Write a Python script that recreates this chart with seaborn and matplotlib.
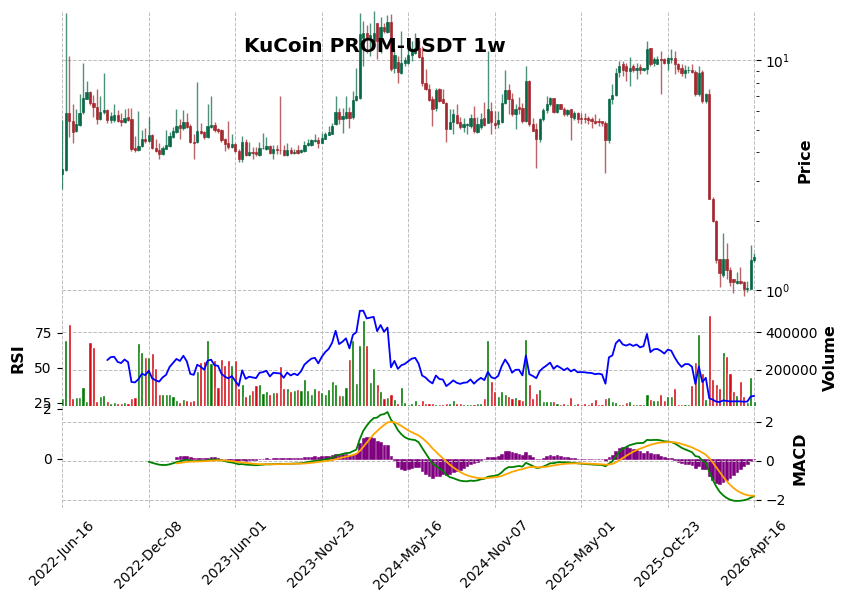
import numpy as np
import pandas as pd
import matplotlib
matplotlib.use("Agg")
import matplotlib.pyplot as plt
import matplotlib.ticker as mticker
import seaborn as sns

title = "KuCoin PROM-USDT 1w"
tick_labels = ["2022-Jun-16", "2022-Dec-08", "2023-Jun-01", "2023-Nov-23", "2024-May-16",
               "2024-Nov-07", "2025-May-01", "2025-Oct-23", "2026-Apr-16"]

# weekly candles (USDT)
opens = [3.20, 3.34, 5.92, 5.47, 4.95, 5.23, 5.96, 6.82, 7.30, 6.55,
         6.29, 5.54, 5.96, 6.06, 5.50, 5.50, 5.77, 5.50, 5.40, 5.67,
         5.54, 4.14, 4.06, 4.24, 4.56, 4.46, 4.72, 4.17, 4.06, 3.93,
         4.13, 4.24, 4.66, 4.90, 5.23, 5.06, 5.38, 5.16, 4.42, 4.42,
         4.93, 4.88, 4.64, 5.13, 5.25, 5.01, 4.96, 4.53, 4.36, 4.21,
         4.31, 4.03, 3.71, 4.43, 3.88, 3.99, 3.99, 3.88, 4.14, 4.10,
         4.23, 3.95, 4.10, 4.08, 4.09, 3.88, 4.06, 3.94, 4.07, 3.99,
         4.03, 4.27, 4.28, 4.45, 4.49, 4.39, 4.56, 4.75, 4.80, 5.27,
         5.96, 5.57, 5.64, 5.96, 5.67, 6.70, 6.84, 12.55, 13.10, 12.55,
         12.10, 14.58, 12.30, 14.00, 13.30, 14.70, 9.30, 9.85, 8.84, 9.70,
         9.77, 10.60, 10.80, 11.35, 10.37, 8.00, 7.53, 6.77, 6.22, 7.48,
         6.77, 6.55, 5.04, 5.42, 5.79, 5.40, 5.13, 5.23, 5.18, 5.64,
         4.90, 5.13, 5.64, 5.36, 6.02, 5.36, 5.27, 5.40, 6.55, 7.40,
         6.82, 5.82, 6.29, 6.22, 5.47, 8.13, 5.27, 5.01, 4.53, 5.57,
         6.06, 6.44, 6.84, 5.98, 6.44, 6.16, 5.82, 6.16, 5.64, 5.92,
         5.64, 5.64, 5.60, 5.54, 5.47, 5.47, 5.43, 5.34, 4.51, 6.82,
         7.05, 8.90, 9.60, 9.50, 9.00, 9.45, 9.10, 9.40, 9.10, 9.14,
         11.35, 9.77, 9.67, 10.10, 10.10, 9.77, 10.16, 10.27, 9.67, 9.30,
         8.84, 9.05, 9.10, 8.93, 7.16, 8.90, 6.66, 7.16, 2.50, 2.00,
         1.37, 1.17, 1.37, 1.22, 1.12, 1.08, 1.10, 1.09, 1.01, 1.01,
         1.35]
highs = [5.50, 16.0, 10.5, 6.48, 6.12, 7.11, 9.77, 8.13, 7.35, 7.08,
         7.53, 7.00, 8.84, 6.16, 5.95, 6.46, 6.08, 5.88, 6.16, 6.22,
         6.22, 4.69, 6.04, 4.96, 5.09, 5.69, 4.77, 4.53, 4.39, 4.24,
         4.96, 4.90, 5.15, 6.17, 5.57, 6.06, 5.92, 5.27, 4.77, 8.07,
         5.36, 4.95, 6.46, 7.00, 5.40, 5.08, 5.01, 4.59, 5.47, 4.80,
         4.39, 4.10, 4.67, 4.53, 4.42, 4.20, 4.20, 4.42, 4.85, 4.66,
         4.27, 4.28, 4.30, 7.00, 4.30, 4.39, 4.20, 4.10, 4.30, 4.10,
         4.46, 4.53, 4.56, 4.77, 4.66, 4.85, 4.90, 5.18, 5.36, 7.00,
         6.22, 6.22, 7.00, 6.29, 7.35, 9.30, 16.0, 14.9, 14.2, 14.5,
         16.4, 14.6, 15.4, 14.6, 15.8, 15.9, 11.2, 10.44, 13.4, 10.3,
         11.5, 12.1, 13.2, 12.3, 11.5, 9.14, 7.86, 7.00, 7.60, 7.60,
         7.48, 6.60, 6.12, 6.17, 6.46, 5.69, 5.64, 5.36, 5.82, 6.33,
         5.69, 5.92, 6.62, 10.98, 6.60, 6.00, 6.02, 7.11, 9.05, 7.90,
         7.23, 6.48, 6.95, 6.55, 9.50, 8.20, 5.64, 5.33, 5.64, 6.22,
         7.00, 6.95, 6.88, 6.48, 6.48, 6.29, 6.16, 6.16, 6.02, 5.96,
         5.88, 5.92, 5.73, 5.69, 5.82, 5.60, 5.47, 5.43, 6.84, 7.86,
         9.30, 9.95, 9.95, 9.70, 10.37, 9.60, 9.77, 9.60, 9.30, 12.2,
         11.35, 10.37, 10.44, 10.98, 10.20, 10.37, 11.16, 10.98, 9.77, 9.60,
         9.55, 9.50, 9.60, 9.10, 9.45, 9.10, 7.23, 7.48, 2.54, 2.03,
         1.37, 1.78, 1.61, 1.26, 1.12, 1.20, 1.26, 1.10, 1.10, 1.58,
         1.45]
lows = [2.75, 3.30, 4.66, 4.39, 4.90, 5.18, 5.82, 6.77, 6.40, 5.69,
        5.27, 5.50, 5.82, 5.36, 5.36, 5.40, 5.40, 5.18, 5.36, 5.47,
        4.02, 3.99, 4.02, 4.21, 4.39, 4.42, 4.13, 3.99, 3.71, 3.87,
        4.10, 4.21, 4.61, 4.85, 4.56, 4.98, 5.06, 4.36, 3.71, 4.39,
        4.77, 4.56, 4.59, 5.08, 4.90, 4.85, 4.42, 4.03, 4.13, 4.17,
        3.99, 3.61, 3.62, 3.84, 3.84, 3.74, 3.84, 3.84, 4.10, 4.07,
        3.93, 3.74, 3.90, 3.90, 3.84, 3.84, 3.90, 3.90, 3.90, 3.94,
        3.99, 4.24, 4.24, 4.42, 4.14, 4.36, 4.53, 4.72, 4.77, 5.23,
        5.27, 4.85, 5.57, 5.06, 5.54, 6.66, 6.77, 9.45, 10.8, 10.44,
        11.5, 10.1, 10.8, 13.2, 13.2, 9.00, 8.84, 7.95, 8.70, 9.45,
        9.60, 9.95, 10.70, 10.27, 7.70, 7.43, 6.66, 5.18, 6.02, 6.60,
        6.50, 4.42, 5.01, 4.77, 5.27, 5.01, 4.90, 4.77, 5.09, 4.85,
        4.85, 5.01, 5.18, 5.33, 4.77, 5.01, 5.09, 5.33, 6.44, 5.82,
        5.73, 5.01, 5.82, 5.36, 5.40, 5.18, 4.92, 3.41, 4.42, 5.47,
        5.92, 6.33, 5.92, 5.92, 6.12, 5.73, 5.73, 4.49, 5.50, 5.36,
        5.31, 5.36, 5.27, 5.06, 5.31, 5.18, 5.18, 3.24, 4.36, 6.48,
        7.00, 8.50, 8.55, 8.13, 7.70, 8.90, 8.27, 8.70, 9.00, 8.70,
        9.45, 9.45, 9.60, 7.16, 9.60, 9.05, 9.77, 8.70, 8.90, 8.55,
        8.41, 8.78, 8.84, 7.00, 7.00, 6.55, 6.55, 2.49, 1.99, 1.32,
        1.03, 1.14, 1.12, 1.04, 0.97, 1.06, 1.06, 0.945, 0.98, 1.01,
        1.33]
closes = [3.36, 5.92, 5.47, 4.90, 5.29, 5.92, 6.84, 7.30, 6.53, 6.27,
          5.54, 5.96, 6.06, 5.50, 5.74, 5.77, 5.47, 5.40, 5.64, 5.50,
          4.10, 4.06, 4.24, 4.56, 4.46, 4.72, 4.17, 4.03, 3.93, 4.14,
          4.27, 4.69, 4.93, 5.18, 5.08, 5.40, 5.13, 4.42, 4.36, 4.93,
          4.82, 4.64, 5.18, 5.25, 4.96, 4.93, 4.49, 4.31, 4.21, 4.31,
          4.03, 3.71, 4.43, 3.88, 3.99, 3.94, 3.90, 4.14, 4.17, 4.23,
          3.95, 4.10, 4.08, 4.07, 3.88, 4.06, 3.94, 4.00, 3.94, 4.06,
          4.28, 4.39, 4.49, 4.52, 4.37, 4.59, 4.77, 4.90, 5.18, 5.96,
          5.57, 5.73, 5.96, 5.64, 6.70, 7.00, 12.98, 13.10, 12.55, 12.90,
          13.20, 12.15, 14.00, 13.40, 14.70, 9.14, 10.60, 8.90, 9.70, 10.00,
          10.60, 11.16, 11.35, 10.37, 8.00, 7.53, 6.73, 6.16, 7.43, 6.66,
          6.55, 5.04, 5.42, 5.86, 5.36, 5.13, 5.27, 5.31, 5.64, 4.95,
          5.31, 5.57, 5.25, 6.12, 5.40, 5.23, 5.49, 6.55, 7.40, 6.82,
          5.82, 6.16, 6.17, 5.47, 8.13, 5.27, 4.95, 4.53, 5.57, 6.06,
          6.44, 6.88, 5.98, 6.44, 6.16, 5.82, 6.08, 5.67, 5.88, 5.54,
          5.57, 5.54, 5.49, 5.47, 5.36, 5.40, 5.34, 4.51, 6.82, 7.05,
          8.84, 9.50, 9.10, 9.00, 9.24, 9.10, 9.30, 9.10, 9.24, 11.20,
          9.67, 10.10, 10.16, 10.00, 9.77, 10.27, 10.20, 9.67, 9.20, 8.84,
          9.10, 9.10, 8.90, 7.16, 8.84, 6.66, 7.16, 2.50, 2.00, 1.35,
          1.19, 1.37, 1.22, 1.09, 1.09, 1.10, 1.08, 1.01, 1.02, 1.36,
          1.39]
volumes = [50000, 361000, 446000, 48000, 53000, 53000, 106000, 32000, 350000, 320000,
           32000, 57000, 64000, 32000, 20000, 25000, 20000, 20000, 25000, 21000,
           46000, 53000, 340000, 294000, 269000, 269000, 287000, 211000, 71000, 69000,
           69000, 69000, 60000, 37000, 25000, 42000, 37000, 32000, 37000, 193000,
           241000, 246000, 361000, 234000, 250000, 108000, 255000, 223000, 250000, 223000,
           250000, 104000, 122000, 57000, 69000, 92000, 117000, 122000, 74000, 85000,
           69000, 78000, 78000, 218000, 104000, 99000, 87000, 92000, 96000, 92000,
           149000, 92000, 69000, 99000, 90000, 78000, 69000, 96000, 138000, 122000,
           64000, 64000, 106000, 255000, 357000, 127000, 329000, 467000, 334000, 134000,
           207000, 122000, 85000, 46000, 53000, 69000, 42000, 21000, 106000, 25000,
           16000, 21000, 37000, 16000, 37000, 21000, 21000, 21000, 16000, 16000,
           16000, 19000, 21000, 37000, 21000, 21000, 16000, 16000, 16000, 16000,
           21000, 21000, 48000, 361000, 138000, 85000, 58000, 85000, 69000, 58000,
           46000, 53000, 42000, 39000, 366000, 122000, 48000, 73000, 96000, 32000,
           32000, 32000, 32000, 21000, 16000, 21000, 16000, 53000, 16000, 21000,
           16000, 21000, 16000, 25000, 42000, 16000, 16000, 48000, 53000, 32000,
           25000, 16000, 15000, 25000, 32000, 16000, 15000, 16000, 15000, 69000,
           42000, 39000, 39000, 69000, 37000, 58000, 58000, 101000, 16000, 16000,
           15000, 15000, 117000, 241000, 393000, 184000, 42000, 490000, 149000, 122000,
           99000, 294000, 273000, 184000, 85000, 64000, 140000, 57000, 25000, 159000,
           30000]

sns.set_style("white")
plt.rcParams['font.family'] = ['DejaVu Sans']
plt.rcParams.update({'text.color': 'black', 'xtick.color': 'black',
                     'ytick.color': 'black', 'axes.labelcolor': 'black'})

df = pd.DataFrame({'Open': opens, 'High': highs, 'Low': lows,
                   'Close': closes, 'Volume': volumes})
df['idx'] = np.arange(len(df))
up = df['Close'] >= df['Open']

# RSI (14, Wilder smoothing) and MACD (12, 26, 9) from the closes
delta = df['Close'].diff().fillna(0)
gain = delta.clip(lower=0).ewm(alpha=1 / 14, adjust=False, min_periods=14).mean()
loss = (-delta.clip(upper=0)).ewm(alpha=1 / 14, adjust=False, min_periods=14).mean()
df['RSI'] = 100 - 100 / (1 + gain / loss)
ema12 = df['Close'].ewm(span=12, adjust=False).mean()
ema26 = df['Close'].ewm(span=26, adjust=False).mean()
macd = ema12 - ema26
macd[:25] = np.nan
df['MACD'] = macd
df['Signal'] = macd.ewm(span=9, adjust=False, min_periods=9).mean()
df['Hist'] = df['MACD'] - df['Signal']

up_col, dn_col = '#006340', '#a02128'
vup_col, vdn_col = '#007a00', '#d50d18'
grid_kw = dict(color='#bdbdbd', linestyle='--', linewidth=0.7)

fig = plt.figure(figsize=(8.5, 6), dpi=100)
left, width = 61.6 / 850, 694 / 850
ax_p = fig.add_axes([left, 1 - 299 / 600, width, 288 / 600])
ax_v = fig.add_axes([left, 1 - 406 / 600, width, 107 / 600], sharex=ax_p)
ax_m = fig.add_axes([left, 1 - 508 / 600, width, 102 / 600], sharex=ax_p)

# candles
cc = np.where(up, up_col, dn_col)
ax_p.vlines(df['idx'], df['Low'], df['High'], colors=cc, linewidth=1.0, alpha=0.7)
body_lo = df[['Open', 'Close']].min(axis=1)
body_h = (df['Close'] - df['Open']).abs()
ax_p.bar(df['idx'], body_h, bottom=body_lo, width=0.65, color=cc,
         edgecolor=cc, linewidth=0.5, alpha=0.9)
ax_p.set_yscale('log')
ax_p.set_ylim(0.916, 16.4)
ax_p.yaxis.tick_right()
ax_p.yaxis.set_minor_formatter(mticker.NullFormatter())
ax_p.grid(True, which='major', **grid_kw)

# volume + RSI
vc = np.where(up, vup_col, vdn_col)
ax_v.bar(df['idx'], df['Volume'], width=0.9, color=vc)
ax_v.set_ylim(5000, 578000)
ax_v.set_yticks([200000, 400000])
ax_v.yaxis.set_major_formatter(mticker.FuncFormatter(lambda v, p: f"{v:.0f}"))
ax_v.grid(True, **grid_kw)

ax_r = ax_v.twinx()
ax_v.yaxis.tick_right()
sns.lineplot(x=df['idx'], y=df['RSI'], ax=ax_r, color='blue', linewidth=1.3)
ax_r.yaxis.tick_left()
ax_r.set_ylim(22.5, 99)
ax_r.set_yticks([25, 50, 75])

# MACD
ax_m.bar(df['idx'], df['Hist'], width=0.8, color='purple',
         edgecolor='purple', linewidth=0.4)
ax_m.set_ylim(-1.98, 2.1)
ax_m.set_yticks([0, 2])
ax_m.grid(True, axis='x', **grid_kw)
ax_m2 = ax_m.twinx()
ax_m.yaxis.tick_left()
sns.lineplot(x=df['idx'], y=df['MACD'], ax=ax_m2, color='green', linewidth=1.3)
sns.lineplot(x=df['idx'], y=df['Signal'], ax=ax_m2, color='orange', linewidth=1.3)
ax_m2.set_ylim(-2.42, 2.8)
ax_m2.set_yticks([-2, 0, 2])
ax_m2.grid(True, axis='y', **grid_kw)

for a in (ax_p, ax_v, ax_r, ax_m, ax_m2):
    for s in a.spines.values():
        s.set_visible(False)
    a.set_xlabel('')
    a.set_ylabel('')
    a.tick_params(axis='y', which='major', labelsize=10, length=3.5, width=0.8)
    a.tick_params(axis='y', which='minor', length=2.5, width=0.6)

ax_p.set_xlim(-0.2, 200.4)
ax_p.set_xticks(np.arange(0, 201, 25))
for a in (ax_p, ax_v, ax_r, ax_m2):
    a.tick_params(axis='x', length=0, labelbottom=False)
ax_m.set_xticks(np.arange(0, 201, 25))
ax_m.set_xticklabels(tick_labels, rotation=45, ha='center', fontsize=10)
ax_m.tick_params(axis='x', length=3.5, width=0.8)
ax_v.grid(True, axis='x', **grid_kw)

fig.text(375 / 850, 1 - 47 / 600, title, ha='center', va='center',
         fontsize=14.4, fontweight='bold')
lab_kw = dict(rotation=90, ha='center', va='center', fontsize=11.5, fontweight='bold')
fig.text(805 / 850, 1 - 160 / 600, 'Price', **lab_kw)
fig.text(830 / 850, 1 - 358 / 600, 'Volume', **lab_kw)
fig.text(18 / 850, 1 - 358 / 600, 'RSI', **lab_kw)
fig.text(800 / 850, 1 - 458 / 600, 'MACD', **lab_kw)

fig.savefig('out.png', dpi=100)
